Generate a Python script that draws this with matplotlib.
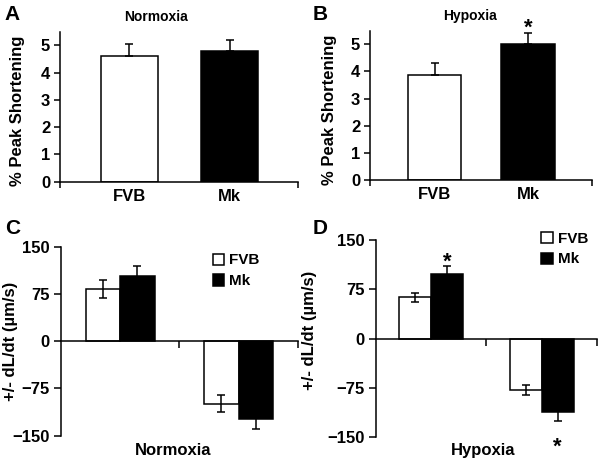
import matplotlib
matplotlib.use("Agg")
import matplotlib.pyplot as plt
from matplotlib.patches import Patch

plt.rcParams['font.family'] = ['Liberation Sans', 'DejaVu Sans']
plt.rcParams['font.weight'] = 'bold'
plt.rcParams['axes.labelweight'] = 'bold'
plt.rcParams['axes.linewidth'] = 1.1

# Peak shortening (%), mean and SEM
strains = ["FVB", "Mk"]
norm_ps = [4.6, 4.78]
norm_ps_err = [0.45, 0.43]
hyp_ps = [3.87, 5.0]
hyp_ps_err = [0.43, 0.4]

# +/- dL/dt (um/s): first value = +dL/dt, second = -dL/dt
norm_fvb = [83, -99]
norm_fvb_err = [14, 14]
norm_mk = [103, -124]
norm_mk_err = [17, 15]
hyp_fvb = [63, -78]
hyp_fvb_err = [7, 7]
hyp_mk = [98, -111]
hyp_mk_err = [12, 14]

fig = plt.figure(figsize=(6.03, 4.65), dpi=100)

axA = fig.add_axes([0.0995, 0.6092, 0.3947, 0.3226])
axB = fig.add_axes([0.6136, 0.6129, 0.3677, 0.3211])
axC = fig.add_axes([0.1012, 0.0630, 0.3925, 0.4065])
axD = fig.add_axes([0.6236, 0.0596, 0.3660, 0.4243])

ekw = dict(elinewidth=1.1, capthick=1.1, ecolor='black')


def peak_panel(ax, vals, errs, title, tx):
    ax.bar([0, 1], vals, width=0.57, color=['white', 'black'],
           edgecolor='black', linewidth=1.1, yerr=[[0, 0], errs],
           capsize=3, error_kw=ekw)
    ax.set_xlim(-0.69, 1.68)
    ax.set_ylim(0, 5.5)
    ax.set_yticks(range(6))
    ax.set_xticks([0, 1])
    ax.set_xticklabels(strains, fontsize=12)
    ax.set_xticks([-0.69, 1.68], minor=True)
    ax.tick_params(axis='x', which='major', length=0, pad=5)
    ax.tick_params(axis='x', which='minor', length=4, width=1.1)
    ax.tick_params(axis='y', length=4, width=1.1, labelsize=12, pad=3)
    ax.spines['top'].set_visible(False)
    ax.spines['right'].set_visible(False)
    ax.set_ylabel("% Peak Shortening", fontsize=12)
    ax.yaxis.set_label_coords(-0.147, 0.47)
    ax.text(tx, 1.1, title, transform=ax.transAxes, ha='center',
            va='center', fontsize=10)


def dldt_panel(ax, fvb, fvb_err, mk, mk_err, xlabel):
    w = 0.29
    ax.bar([-w / 2, 1 - w / 2], fvb, width=w, color='white',
           edgecolor='black', linewidth=1.1, yerr=fvb_err, capsize=3,
           error_kw=ekw)
    ax.bar([w / 2, 1 + w / 2], mk, width=w, color='black',
           edgecolor='black', linewidth=1.1, yerr=mk_err, capsize=3,
           error_kw=ekw)
    ax.set_xlim(-0.5, 1.5)
    ax.set_ylim(-150, 150)
    ax.set_yticks([-150, -75, 0, 75, 150])
    ax.set_xticks([])
    ax.set_xticks([0.5, 1.5], minor=True)
    ax.tick_params(axis='x', which='minor', length=5, width=1.1)
    ax.tick_params(axis='y', length=5, width=1.1, labelsize=12, pad=3)
    ax.spines['top'].set_visible(False)
    ax.spines['right'].set_visible(False)
    ax.spines['bottom'].set_position(('data', 0))
    ax.set_ylabel("+/- dL/dt (\u00b5m/s)", fontsize=12)
    ax.set_xlabel(xlabel, fontsize=12)


peak_panel(axA, norm_ps, norm_ps_err, "Normoxia", 0.403)
peak_panel(axB, hyp_ps, hyp_ps_err, "Hypoxia", 0.451)
axB.text(1, 5.4, "*", ha='center', va='baseline', fontsize=16)

dldt_panel(axC, norm_fvb, norm_fvb_err, norm_mk, norm_mk_err, "Normoxia")
axC.yaxis.set_label_coords(-0.18, 0.5)
axC.xaxis.set_label_coords(0.473, -0.039)

dldt_panel(axD, hyp_fvb, hyp_fvb_err, hyp_mk, hyp_mk_err, "Hypoxia")
axD.yaxis.set_label_coords(-0.267, 0.544)
axD.xaxis.set_label_coords(0.485, -0.03)
axD.text(0.145, 108, "*", ha='center', va='baseline', fontsize=16)
axD.text(1.145, -173, "*", ha='center', va='baseline', fontsize=16,
         clip_on=False)

handles = [Patch(facecolor='white', edgecolor='black', linewidth=1.1),
           Patch(facecolor='black', edgecolor='black', linewidth=1.1)]
leg_kw = dict(frameon=False, fontsize=11, handlelength=0.75,
              handleheight=0.75, handletextpad=0.3, labelspacing=0.45,
              borderpad=0, borderaxespad=0, loc='upper left',
              bbox_transform=fig.transFigure)
axC.legend(handles, strains, bbox_to_anchor=(0.353, 0.455), **leg_kw)
axD.legend(handles, strains, bbox_to_anchor=(0.898, 0.502), **leg_kw)

for lbl, x, y in [("A", 12.5, 15), ("B", 320, 14),
                  ("C", 13, 229), ("D", 320, 229)]:
    fig.text(x / 603, 1 - y / 465, lbl, ha='center', va='center',
             fontsize=15)

fig.savefig("out.png", dpi=100)
